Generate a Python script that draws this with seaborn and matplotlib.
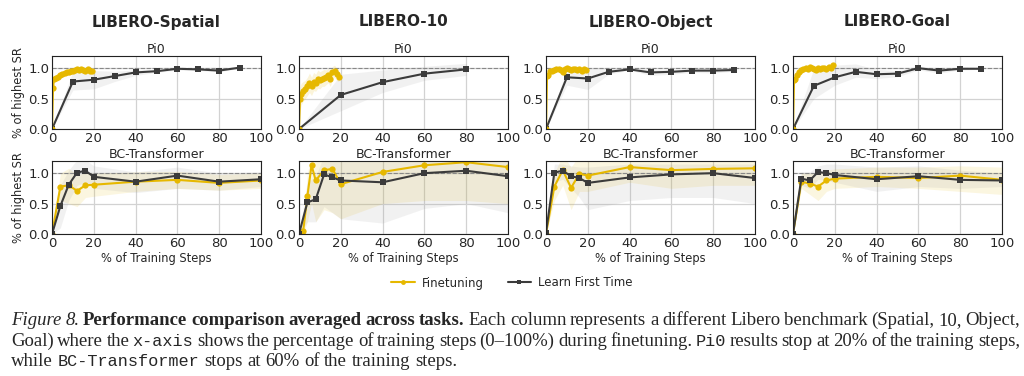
import matplotlib
matplotlib.use("Agg")
import matplotlib.pyplot as plt
import numpy as np
import pandas as pd
import seaborn as sns
from matplotlib.lines import Line2D

# ---------------- data ----------------
benchmarks = ["LIBERO-Spatial", "LIBERO-10", "LIBERO-Object", "LIBERO-Goal"]

# Pi0, finetuning: dense evaluation over the first 20 % of steps
pi0_ft_x = [0, 0.5, 1, 2, 3, 4, 5, 6, 7, 8, 9, 10, 11, 12, 13, 14, 15, 16, 17, 18, 19]
pi0_ft_y = {
    "LIBERO-Spatial": [0, 0.68, 0.83, 0.84, 0.85, 0.88, 0.90, 0.92, 0.93, 0.93, 0.95,
                       0.96, 0.97, 0.98, 0.97, 0.99, 0.97, 0.96, 0.98, 0.95, 0.96],
    "LIBERO-10": [0, 0.50, 0.57, 0.62, 0.65, 0.70, 0.76, 0.70, 0.78, 0.76, 0.82,
                  0.80, 0.83, 0.84, 0.85, 0.88, 0.82, 0.93, 0.95, 0.90, 0.86],
    "LIBERO-Object": [0, 0.87, 0.88, 0.96, 0.95, 0.97, 0.99, 0.98, 0.97, 0.94, 0.98,
                      1.00, 0.99, 0.97, 0.99, 0.98, 0.97, 0.99, 0.96, 0.98, 0.97],
    "LIBERO-Goal": [0, 0.80, 0.82, 0.88, 0.93, 0.97, 0.99, 1.00, 0.98, 1.02, 1.00,
                    0.99, 0.97, 1.00, 0.98, 1.00, 1.01, 0.99, 1.02, 1.00, 1.05],
}
pi0_ft_sd = {
    "LIBERO-Spatial": [0, 0.10, 0.06, 0.05, 0.05, 0.04, 0.04, 0.03, 0.03, 0.03, 0.03,
                       0.02, 0.02, 0.02, 0.02, 0.02, 0.02, 0.02, 0.02, 0.02, 0.02],
    "LIBERO-10": [0, 0.20, 0.18, 0.16, 0.15, 0.15, 0.16, 0.15, 0.15, 0.14, 0.15,
                  0.14, 0.13, 0.14, 0.12, 0.12, 0.12, 0.10, 0.10, 0.10, 0.08],
    "LIBERO-Object": [0, 0.04, 0.04, 0.03, 0.03, 0.03, 0.02, 0.02, 0.02, 0.02, 0.02,
                      0.02, 0.02, 0.02, 0.02, 0.02, 0.02, 0.02, 0.02, 0.02, 0.02],
    "LIBERO-Goal": [0, 0.06, 0.06, 0.06, 0.06, 0.05, 0.05, 0.05, 0.04, 0.04, 0.04,
                    0.04, 0.04, 0.04, 0.04, 0.04, 0.04, 0.04, 0.04, 0.04, 0.04],
}

# Pi0, learn first time
pi0_lf_x = {
    "LIBERO-Spatial": [0, 10, 20, 30, 40, 50, 60, 70, 80, 90],
    "LIBERO-10": [0, 20, 40, 60, 80],
    "LIBERO-Object": [0, 10, 20, 30, 40, 50, 60, 70, 80, 90],
    "LIBERO-Goal": [0, 10, 20, 30, 40, 50, 60, 70, 80, 90],
}
pi0_lf_y = {
    "LIBERO-Spatial": [0, 0.78, 0.81, 0.87, 0.93, 0.95, 0.99, 0.98, 0.96, 1.01],
    "LIBERO-10": [0, 0.56, 0.77, 0.91, 0.98],
    "LIBERO-Object": [0, 0.85, 0.83, 0.94, 0.98, 0.93, 0.94, 0.96, 0.96, 0.97],
    "LIBERO-Goal": [0, 0.71, 0.85, 0.94, 0.90, 0.91, 1.00, 0.96, 0.99, 0.99],
}
pi0_lf_lo = {
    "LIBERO-Spatial": [0, 0.64, 0.66, 0.78, 0.88, 0.93, 0.97, 0.96, 0.94, 1.00],
    "LIBERO-10": [0, 0.30, 0.60, 0.80, 0.88],
    "LIBERO-Object": [0, 0.72, 0.65, 0.90, 0.97, 0.88, 0.90, 0.93, 0.92, 0.95],
    "LIBERO-Goal": [0, 0.50, 0.72, 0.85, 0.83, 0.86, 0.97, 0.92, 0.97, 0.98],
}
pi0_lf_hi = {
    "LIBERO-Spatial": [0, 0.95, 0.96, 0.95, 0.97, 0.98, 1.00, 0.99, 0.97, 1.02],
    "LIBERO-10": [0, 0.90, 0.97, 1.03, 1.08],
    "LIBERO-Object": [0, 0.98, 1.00, 1.00, 1.00, 0.98, 0.98, 0.99, 0.99, 0.99],
    "LIBERO-Goal": [0, 1.00, 1.05, 1.07, 0.98, 0.96, 1.03, 1.00, 1.01, 1.00],
}

# BC-Transformer, learn first time
bc_lf_x = [0, 4, 8, 12, 16, 20, 40, 60, 80, 100]
bc_lf_y = {
    "LIBERO-Spatial": [0, 0.46, 0.81, 1.01, 1.04, 0.94, 0.86, 0.96, 0.86, 0.90],
    "LIBERO-10": [0, 0.52, 0.57, 0.98, 0.93, 0.88, 0.85, 1.00, 1.04, 0.95],
    "LIBERO-Object": [0.02, 1.01, 1.04, 0.95, 0.92, 0.84, 0.93, 0.98, 1.00, 0.92],
    "LIBERO-Goal": [0, 0.91, 0.88, 1.02, 1.00, 0.97, 0.90, 0.95, 0.89, 0.88],
}
bc_lf_lo = {
    "LIBERO-Spatial": [0, 0.10, 0.55, 0.80, 0.85, 0.75, 0.68, 0.75, 0.72, 0.78],
    "LIBERO-10": [0, 0.20, 0.20, 0.45, 0.35, 0.25, 0.18, 0.42, 0.50, 0.35],
    "LIBERO-Object": [0, 0.85, 0.90, 0.75, 0.60, 0.40, 0.55, 0.60, 0.60, 0.50],
    "LIBERO-Goal": [0, 0.80, 0.75, 0.90, 0.88, 0.85, 0.70, 0.78, 0.75, 0.78],
}
bc_lf_hi = {
    "LIBERO-Spatial": [0, 0.80, 1.05, 1.22, 1.22, 1.12, 1.02, 1.10, 1.00, 1.02],
    "LIBERO-10": [0, 0.85, 0.95, 1.30, 1.30, 1.30, 1.30, 1.30, 1.30, 1.30],
    "LIBERO-Object": [0.04, 1.15, 1.15, 1.12, 1.10, 1.10, 1.15, 1.15, 1.15, 1.15],
    "LIBERO-Goal": [0, 1.02, 1.02, 1.12, 1.15, 1.15, 1.10, 1.12, 1.05, 1.00],
}

# BC-Transformer, finetuning
bc_ft_x = {
    "LIBERO-Spatial": [0, 4, 8, 12, 16, 20, 40, 60, 80, 100],
    "LIBERO-10": [0, 2, 4, 6, 8, 12, 16, 20, 40, 60, 80, 100],
    "LIBERO-Object": [0, 4, 8, 12, 16, 20, 40, 60, 80, 100],
    "LIBERO-Goal": [0, 4, 8, 12, 16, 20, 40, 60, 80, 100],
}
bc_ft_y = {
    "LIBERO-Spatial": [0, 0.78, 0.80, 0.71, 0.80, 0.81, 0.86, 0.89, 0.84, 0.88],
    "LIBERO-10": [0, 0.05, 0.62, 1.13, 0.88, 1.05, 1.07, 0.82, 1.02, 1.13, 1.18, 1.10],
    "LIBERO-Object": [0, 0.78, 1.05, 0.76, 0.99, 0.96, 1.10, 1.05, 1.07, 1.08],
    "LIBERO-Goal": [0, 0.86, 0.83, 0.78, 0.88, 0.91, 0.94, 0.92, 0.96, 0.89],
}
bc_ft_lo = {
    "LIBERO-Spatial": [0, 0.55, 0.50, 0.45, 0.60, 0.62, 0.70, 0.75, 0.72, 0.75],
    "LIBERO-10": [0, 0, 0.20, 0.50, 0.20, 0.40, 0.35, 0.25, 0.50, 0.55, 0.55, 0.50],
    "LIBERO-Object": [0, 0.55, 0.80, 0.40, 0.70, 0.70, 0.85, 0.75, 0.80, 0.80],
    "LIBERO-Goal": [0, 0.75, 0.65, 0.55, 0.70, 0.75, 0.78, 0.75, 0.70, 0.65],
}
bc_ft_hi = {
    "LIBERO-Spatial": [0, 1.00, 1.08, 0.98, 1.00, 1.00, 1.02, 1.03, 0.98, 1.00],
    "LIBERO-10": [0, 0.10, 1.00, 1.30, 1.30, 1.30, 1.30, 1.30, 1.30, 1.30, 1.30, 1.30],
    "LIBERO-Object": [0, 1.00, 1.30, 1.10, 1.30, 1.25, 1.30, 1.30, 1.30, 1.30],
    "LIBERO-Goal": [0, 1.00, 1.00, 1.00, 1.05, 1.07, 1.10, 1.10, 1.12, 1.10],
}

FT_COLOR = "#e6b800"
LF_COLOR = "#3b3b3b"

# ---------------- style ----------------
sns.set_theme(style="ticks", rc={
    "axes.grid": True,
    "grid.color": "#d2d2d2",
    "grid.linewidth": 0.9,
    "axes.edgecolor": "#222222",
    "axes.linewidth": 0.8,
    "xtick.major.size": 0,
    "ytick.major.size": 0,
    "xtick.major.pad": 2.5,
    "ytick.major.pad": 2,
})
plt.rcParams["font.family"] = ["DejaVu Sans"]

W, H = 1024, 376
fig = plt.figure(figsize=(W / 100, H / 100), dpi=100, facecolor="white")


def px_axes(left, top, width, height):
    return fig.add_axes([left / W, 1 - (top + height) / H, width / W, height / H])


def draw_series(ax, x, y, lo, hi, color, marker, ms, band_alpha):
    ax.fill_between(x, lo, hi, color=color, alpha=band_alpha, linewidth=0)
    df = pd.DataFrame({"x": x, "y": y})
    sns.lineplot(data=df, x="x", y="y", ax=ax, color=color, marker=marker,
                 markersize=ms, markeredgewidth=0, linewidth=1.5, errorbar=None)


col_left = [52, 299, 546, 793]
ax_w, ax_h = 209, 73
row_top = [56, 161]

for i, b in enumerate(benchmarks):
    # --- Pi0 row ---
    ax = px_axes(col_left[i], row_top[0], ax_w, ax_h)
    draw_series(ax, pi0_lf_x[b], pi0_lf_y[b], pi0_lf_lo[b], pi0_lf_hi[b],
                "#999999", None, 0, 0.13)
    ax.lines[-1].remove()
    sns.lineplot(x=pi0_lf_x[b], y=pi0_lf_y[b], ax=ax, color=LF_COLOR, marker="s",
                 markersize=4.5, markeredgewidth=0, linewidth=1.5, errorbar=None)
    ft_y = np.array(pi0_ft_y[b])
    ft_sd = np.array(pi0_ft_sd[b])
    draw_series(ax, pi0_ft_x, ft_y, ft_y - ft_sd, ft_y + ft_sd,
                FT_COLOR, "o", 4.5, 0.15)
    ax.set_title("Pi0", fontsize=9, pad=2.5)

    # --- BC-Transformer row ---
    ax2 = px_axes(col_left[i], row_top[1], ax_w, ax_h)
    fx, fy = bc_ft_x[b], bc_ft_y[b]
    draw_series(ax2, fx, fy, bc_ft_lo[b], bc_ft_hi[b], FT_COLOR, "o", 4.5, 0.12)
    ax2.fill_between(bc_lf_x, bc_lf_lo[b], bc_lf_hi[b], color="#999999", alpha=0.13,
                     linewidth=0)
    sns.lineplot(x=bc_lf_x, y=bc_lf_y[b], ax=ax2, color=LF_COLOR, marker="s",
                 markersize=4.5, markeredgewidth=0, linewidth=1.5, errorbar=None)
    ax2.set_title("BC-Transformer", fontsize=9, pad=2.5)
    ax2.set_xlabel("% of Training Steps", fontsize=8.3, labelpad=1)

    for a in (ax, ax2):
        a.axhline(1.0, color="#888888", linestyle="--", linewidth=0.8, zorder=1)
        a.set_xlim(0, 100)
        a.set_ylim(0, 1.2)
        a.set_xticks([0, 20, 40, 60, 80, 100])
        a.set_yticks([0.0, 0.5, 1.0])
        a.tick_params(labelsize=9.5)
        for s in a.spines.values():
            s.set_visible(True)
        if i == 0:
            a.set_ylabel("% of highest SR", fontsize=8.3, labelpad=2)
        else:
            a.set_ylabel("")
    ax.set_xlabel("")

    fig.text((col_left[i] + ax_w / 2) / W, 1 - 22 / H, b, ha="center", va="center",
             fontsize=11, fontweight="bold")

# legend
handles = [Line2D([], [], color=FT_COLOR, marker="o", markersize=3.5, linewidth=1.5,
                  markeredgewidth=0),
           Line2D([], [], color=LF_COLOR, marker="s", markersize=3.5, linewidth=1.5,
                  markeredgewidth=0)]
fig.legend(handles, ["Finetuning", "Learn First Time"], loc="center",
           bbox_to_anchor=(0.5, 1 - 283 / H), ncol=2, frameon=False, fontsize=8.5,
           handlelength=2.0, columnspacing=2.0, handletextpad=0.6)

# ---------------- caption ----------------
CAP_SIZE = 13.5
styles = {
    "i": dict(family="Liberation Serif", style="italic"),
    "b": dict(family="Liberation Serif", weight="bold"),
    "r": dict(family="Liberation Serif"),
    "m": dict(family="Liberation Mono"),
}
caption_lines = [
    [("Figure 8.", "i"), ("Performance comparison averaged across tasks.", "b"),
     ("Each column represents a different Libero benchmark (Spatial, 10, Object,", "r")],
    [("Goal) where the", "r"), ("x-axis", "m"),
     ("shows the percentage of training steps (0–100%) during finetuning.", "r"),
     ("Pi0", "m"), ("results stop at 20% of the training steps,", "r")],
    [("while", "r"), ("BC-Transformer", "m"), ("stops at 60% of the training steps.", "r")],
]
caption_y = [325, 346, 366]
renderer = fig.canvas.get_renderer()
x_start, x_end = 11, 1020

for li, (segs, ypx) in enumerate(zip(caption_lines, caption_y)):
    words = []
    for text, st in segs:
        for w in text.split(" "):
            words.append((w, st))
    objs = []
    for w, st in words:
        size = CAP_SIZE * (0.9 if st == "m" else 1.0)
        t = fig.text(0, 1 - ypx / H, w, fontsize=size, va="baseline",
                     ha="left", **styles[st])
        objs.append(t)
    widths = [t.get_window_extent(renderer).width for t in objs]
    space = 0.25 * CAP_SIZE * 100 / 72
    if li < 2:
        gap = (x_end - x_start - sum(widths)) / (len(objs) - 1)
    else:
        gap = space
    x = x_start
    for t, w in zip(objs, widths):
        t.set_x(x / W)
        x += w + gap

fig.savefig("out.png", dpi=100, facecolor="white")
